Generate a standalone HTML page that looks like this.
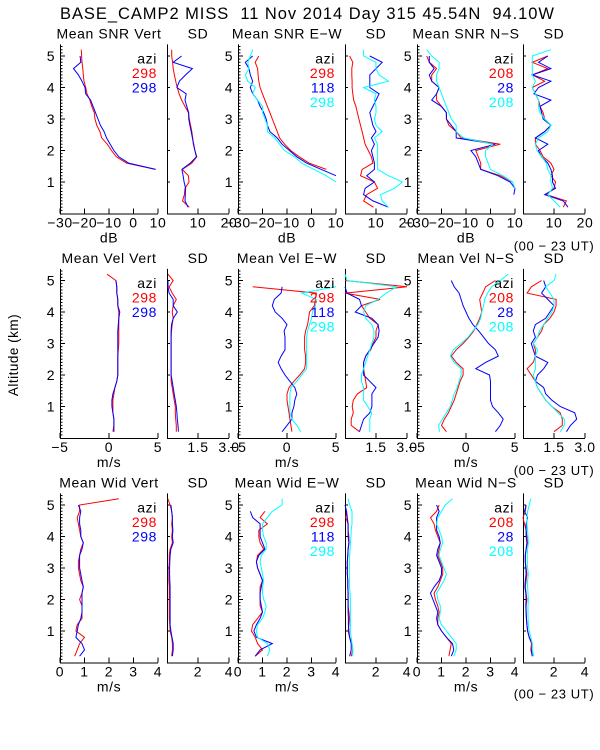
<!DOCTYPE html>
<html><head><meta charset="utf-8"><style>
body{margin:0;background:#fff}
svg{display:block}
text{font-family:"Liberation Sans",sans-serif;fill:#000}
</style></head><body>
<svg id="chart" width="600" height="750" viewBox="0 0 600 750" xmlns="http://www.w3.org/2000/svg">
<text x="60" y="19" font-size="16.5" textLength="494" lengthAdjust="spacing" xml:space="preserve">BASE_CAMP2 MISS  11 Nov 2014 Day 315 45.54N  94.10W</text>
<text transform="translate(18,355) rotate(-90)" font-size="13.5" text-anchor="middle" letter-spacing="0.5">Altitude (km)</text>
</svg>
<script>
// altitude grid (km)
const altitudes = [0.2,0.4,0.6,0.8,1.0,1.2,1.4,1.6,1.8,2.0,2.2,2.4,2.6,2.8,3.0,3.2,3.4,3.6,3.8,4.0,4.2,4.4,4.6,4.8,5.0,5.2];
const N = null;
// Row 1: SNR
const snrVertRed  = [N,N,N,N,N,N,9,-2.8,-7,-9,-10.7,-13,-13.7,-15,-15.7,-16,-17,-17.8,-19,-19.5,-20.2,-20.5,-20.7,-21,-21.2,-21.3];
const snrVertBlue = [N,N,N,N,N,N,9,-2,-6,-8,-9.5,-11,-12,-13.5,-14.5,-15.5,-16.5,-17.5,-19.5,-19.8,-21,-22.5,-24.5,-21.5,-21.8,N];
const snrVertSdRed  = [7.2,5,5.6,5.8,7.1,6.9,4.9,8,9.6,9,8.5,8.3,8,7.6,7.2,6.9,5.8,4.7,3.9,3.3,2.8,2.4,2,1.8,1.5,1.5];
const snrVertSdBlue = [6.8,5.8,5.9,6,5.5,5.2,4.8,7.5,9.5,9,8.6,8.2,7.8,7.4,7,7,6.4,5.8,6.2,3.2,4,6,8.2,2,4.7,N];
const snrEwRed  = [N,N,N,N,N,N,6,-1,-5,-8.5,-11,-13,-14,-15,-16,-17,-18,-19,-20,-21,-21.5,-21.8,-22,-23,-21.5,N];
const snrEwBlue = [N,N,N,N,N,10,4,-2,-6,-9,-12,-14,-17,-18,-18.5,-19.5,-21,-22,-24,-25,-24,-25,-25.5,-27,-24,N];
const snrEwCyan = [N,N,N,N,10,6,1,-4,-7,-11,-13,-15,-18,-18,-19,-20,-20,-22,-24,-23,-26,-27,-25.5,-26,-25,-24];
const snrEwSdRed  = [9.2,6,7,10.5,9.5,5,5.5,9,8.5,7.5,6.5,6,5.5,5,4.5,4,3.5,2.8,2.5,2.3,2.3,2.2,2.2,2.5,1.5,N];
const snrEwSdBlue = [14,9,6,6.5,9.5,7,9.5,9.5,9,8.5,9.5,8.5,10,9,8.5,8,9,10,11,8,8,8,10,12,8,N];
const snrEwSdCyan = [14,12,11.5,16,18.5,14,10.5,10.5,10.5,10.5,10.5,9.5,12,10,9.5,10,10,9.5,10,6,14,11,10,10,6,6];
const snrNsRed  = [N,N,N,N,9,4,-4,-4,-5,-6,4,-12,-14,-17,-18,-18,-20,-22,-22,-21,-24,-24,-22,-25,-26,N];
const snrNsBlue = [N,N,9.5,10,8,3,-4,-5,-6,-8,2,-14,-14,-16,-18,-18,-20,-24,-22,-21,-24,-25,-23,-25,-25,N];
const snrNsCyan = [N,N,N,10,9,5,0,-1,-2,-2,1,-11,-14,-14,-16,-17,-18,-19,-20,-21,-22,-22,-21,-21,-24,-26];
const snrNsSdRed  = [13,14,7.5,10,10.5,9,10,9,6.5,5.5,4,4,7,9,7,6.5,5.5,5,4,3,7,3,8,3,8,N];
const snrNsSdBlue = [14.5,13,7,10.5,9.5,9.5,9,8,6,5,8,4,7,9,6.5,6,5.5,9,3.5,5,9,3,9,5,8,N];
const snrNsSdCyan = [12,10,8,9.5,9,9,8,7.5,6,4.5,4,5,8,9,7,5.5,5,5,4,3,4,3,3,3,3,9];
// Row 2: velocity
const velVertRed  = [0.4,0.5,0.5,0.4,0.4,0.4,0.5,0.6,0.8,0.9,0.9,0.9,0.9,0.95,1.0,1.0,1.0,1.0,1.0,1.0,0.9,0.9,0.8,0.8,0.7,-0.2];
const velVertBlue = [0.5,0.5,0.5,0.4,0.3,0.3,0.4,0.6,0.8,0.9,0.9,0.9,0.9,0.9,0.9,0.9,0.9,0.95,1.0,1.1,0.9,0.9,0.8,0.8,0.7,N];
const velVertSdRed  = [0.45,0.45,0.42,0.4,0.4,0.35,0.3,0.25,0.2,0.2,0.2,0.2,0.2,0.2,0.2,0.2,0.22,0.25,0.3,0.25,0.3,0.45,0.25,0.1,0.3,0.05];
const velVertSdBlue = [0.55,0.53,0.5,0.48,0.45,0.4,0.35,0.3,0.25,0.2,0.2,0.2,0.2,0.2,0.2,0.2,0.2,0.22,0.3,0.5,0.3,0.3,0.1,0.05,0.05,N];
const velEwRed  = [0.5,0.4,0.3,0.2,0.1,0,0,0.2,0.7,1.3,1.8,1.9,1.9,1.8,1.8,1.8,1.9,2.1,2.2,2.3,2.8,2.9,3.0,-3.5,N,N];
const velEwBlue = [-0.5,0,0.5,0.5,0.7,0.8,1.0,0.8,0.3,-0.2,-0.6,-0.9,-0.6,-0.2,-0.2,-0.2,-0.3,0,-0.5,-1.2,-1.5,-1.3,-0.6,-0.5,N,N];
const velEwCyan = [1.4,1,0.5,0.3,0.3,0.3,0.3,0.4,1.0,1.5,2.0,2.0,2.0,2.0,2.0,2.0,2.1,2.3,2.5,2.6,2.9,3.0,1.5,5,N,N];
const velEwSdRed  = [0.7,0.3,0.3,0.4,0.35,0.4,0.6,1.05,1.0,0.95,0.9,0.9,1.0,1.25,1.35,1.5,1.5,1.6,1.2,1.0,0.8,1.7,0.0,3.0,0.0,N];
const velEwSdBlue = [0.7,0.8,0.9,1.2,1.3,1.3,1.3,1.5,1.2,0.9,0.9,0.9,1.0,1.2,1.4,1.6,1.65,1.6,1.3,0.5,0.8,0.7,0.1,0.0,N,N];
const velEwSdCyan = [1.2,1.2,1.2,1.3,1.1,0.9,0.9,0.9,0.8,0.8,0.9,1.0,1.1,1.2,1.3,1.4,1.4,1.3,1.0,0.9,1.0,1.6,2.0,2.5,0.1,0.0];
const velNsRed  = [-2.0,-2.5,-2.2,-1.8,-1.5,-1.2,-1.0,-0.8,-0.6,-0.3,-0.3,-1.0,-1.5,-1.0,-0.3,0.3,0.8,1.1,1.4,1.6,1.5,1.4,1.7,2.0,3.0,N];
const velNsBlue = [3.0,3.5,3.8,3.3,2.7,2.5,2.5,2.5,2.5,2.4,1.0,2.0,3.3,3.0,2.3,1.8,1.3,0.7,0.3,0.0,-0.3,-0.5,-0.7,-1.2,-1.5,N];
const velNsCyan = [-2.7,-2.8,-2.4,-2.0,-1.6,-1.4,-1.2,-0.9,-0.7,-0.5,-0.5,-1.2,-1.6,-1.3,-0.5,0.2,0.7,1.2,1.5,1.6,1.8,1.9,2.2,2.6,3.5,4.3];
const velNsSdRed  = [1.5,1.9,1.9,1.8,1.4,1.1,0.9,0.7,0.6,0.4,0.2,0.5,0.6,0.6,0.5,0.7,0.9,1.0,1.3,1.5,1.6,1.6,0.2,0.4,0.9,N];
const velNsSdBlue = [2.1,2.3,2.6,2.5,1.8,1.4,1.1,1.0,0.6,0.7,1.0,1.2,0.6,0.5,0.4,0.6,0.5,0.6,1.1,1.3,1.5,1.2,0.9,1.1,1.0,N];
const velNsSdCyan = [1.8,2.0,2.0,1.7,1.4,1.1,0.9,0.7,0.6,0.5,0.6,0.6,0.6,0.7,0.5,0.7,0.8,1.0,1.2,1.4,1.5,1.5,1.3,1.1,1.5,1.6];
// Row 3: width
const widVertRed  = [0.6,0.7,0.8,1.0,0.65,0.7,0.9,0.9,0.9,0.8,0.9,0.95,0.85,0.8,0.75,0.75,0.8,0.85,0.95,0.85,0.8,0.75,0.7,0.8,0.8,2.4];
const widVertBlue = [0.8,1.0,0.9,0.65,0.7,0.75,0.85,0.9,0.9,0.9,0.9,0.95,0.9,0.85,0.8,0.8,0.8,0.9,0.95,0.85,0.85,0.8,0.8,0.85,0.75,N];
const widVertSdRed  = [0.3,0.35,0.35,0.3,0.2,0.18,0.15,0.15,0.15,0.15,0.15,0.15,0.12,0.12,0.12,0.15,0.15,0.2,0.35,0.3,0.35,0.3,0.35,0.3,0.2,0.05];
const widVertSdBlue = [0.35,0.4,0.4,0.32,0.25,0.2,0.2,0.2,0.2,0.2,0.2,0.2,0.18,0.17,0.17,0.18,0.2,0.25,0.4,0.35,0.38,0.35,0.35,0.3,0.25,N];
const widEwRed  = [0.7,1.0,0.8,0.7,0.55,0.6,0.8,1.0,0.9,0.9,0.9,0.9,1.0,0.9,0.8,0.75,0.8,1.05,0.9,0.85,0.85,1.2,0.9,1.1,N,N];
const widEwBlue = [0.7,0.9,1.4,0.75,0.65,0.75,0.9,1.0,0.95,0.9,0.9,0.95,1.0,0.9,0.8,0.75,0.85,1.1,1.0,0.9,0.9,0.9,0.6,0.5,N,N];
const widEwCyan = [1.2,1.3,1.2,0.8,0.75,0.8,1.0,1.1,1.15,1.05,1.0,1.0,1.05,1.0,0.95,0.9,0.95,1.15,1.15,1.05,1.0,1.0,1.2,1.4,1.8,1.8];
const widEwSdRed  = [0.4,0.5,0.45,0.3,0.2,0.25,0.3,0.25,0.2,0.2,0.2,0.18,0.18,0.15,0.15,0.15,0.18,0.2,0.25,0.25,0.2,0.2,0.05,0.1,N,N];
const widEwSdBlue = [0.3,0.4,0.4,0.3,0.25,0.22,0.22,0.2,0.2,0.2,0.2,0.18,0.18,0.15,0.15,0.15,0.18,0.2,0.25,0.2,0.2,0.2,0.15,0.1,0.0,N];
const widEwSdCyan = [0.5,0.5,0.45,0.4,0.35,0.35,0.35,0.35,0.35,0.35,0.33,0.3,0.3,0.28,0.28,0.3,0.3,0.33,0.35,0.38,0.4,0.45,0.45,0.45,0.3,0.2];
const widNsRed  = [1.3,1.35,1.4,1.2,1.0,0.85,0.85,0.9,0.85,0.75,0.7,0.85,0.95,1.05,1.05,0.95,0.85,0.9,0.95,0.85,0.75,0.7,0.55,0.8,0.9,N];
const widNsBlue = [1.4,1.5,1.45,1.2,1.0,0.85,0.8,0.85,0.75,0.65,0.55,0.7,0.9,1.0,1.0,0.9,0.8,0.85,0.95,0.9,0.8,0.8,0.8,0.9,0.8,N];
const widNsCyan = [1.5,1.6,1.6,1.4,1.2,1.0,0.9,0.95,0.95,0.85,0.8,0.95,1.1,1.2,1.1,1.0,0.9,0.95,1.05,1.0,0.9,0.8,0.85,1.0,1.15,1.45];
const widNsSdRed  = [0.6,0.5,0.55,0.4,0.3,0.25,0.22,0.2,0.2,0.25,0.2,0.15,0.2,0.25,0.2,0.15,0.15,0.2,0.3,0.25,0.2,0.1,0.0,0.15,0.2,N];
const widNsSdBlue = [0.6,0.55,0.6,0.4,0.3,0.25,0.22,0.2,0.18,0.2,0.18,0.12,0.15,0.2,0.18,0.15,0.15,0.2,0.25,0.2,0.2,0.2,0.3,0.1,0.2,N];
const widNsSdCyan = [0.7,0.6,0.6,0.5,0.4,0.35,0.33,0.32,0.32,0.35,0.32,0.3,0.3,0.35,0.3,0.28,0.28,0.3,0.35,0.32,0.3,0.25,0.25,0.3,0.4,0.5];
// axis tick labels
const snrTicks = [-30,-20,-10,0,10];
const snrSdTicks = [10,20];
const velTicks = [-5,0,5];
const velSdTicks = [1.5,3.0];
const widTicks = [0,1,2,3,4];
const widSdTicks = [2,4];
const altTicks = [1,2,3,4,5];
const legendVert = ["298","298"];
const legendEw = ["298","118","298"];
const legendNs = ["208","28","208"];

const svg = document.getElementById('chart');
const NS = 'http://www.w3.org/2000/svg';
const COLORS = ['#ff0000','#0000ff','#00ffff'];
const KM = 31.5, TOPALT = 5.37;
const meanX = [60,238,417], sdX = [167,345,523];
const MW = 98, SW = 62;
const rowBottom = [213.5,438,662.5];
const FS = 14;

function mk(tag, attrs){const e=document.createElementNS(NS,tag);for(const k in attrs)e.setAttribute(k,attrs[k]);svg.appendChild(e);return e;}
function txt(x,y,s,size,anchor,fill){const t=mk('text',{x:x,y:y,'font-size':size,'text-anchor':anchor||'start','letter-spacing':'0.6'});if(fill)t.setAttribute('style','fill:'+fill);t.textContent=s;return t;}

function panel(r, x0, w, xmin, xmax, ticks, tickFmt, series, title, name, isMean, legend, unit){
  const yb = rowBottom[r], yt = yb - TOPALT*KM;
  const xs = v => x0 + (v - xmin)/(xmax - xmin)*w;
  const ys = a => yb - a*KM;
  const g = mk('g',{});
  
  
  const ax = mk('path',{d:`M${x0+0.5},${yt} V${yb+0.5} H${x0+w}`,stroke:'#000',fill:'none','stroke-width':1});
  
  
  let d='';
  if(isMean){
    for(let a=0.1;a<TOPALT;a+=0.1){d+=`M${x0},${ys(a)} h${Math.abs(Math.round(a*10)%10)===0?5:2.5}`;}
  } else {
    altTicks.forEach(a=>{d+=`M${x0},${ys(a)} h3`;});
  }
  ticks.forEach(v=>{d+=`M${xs(v)},${yb} v-5`;});
  mk('path',{d:d,stroke:'#000','stroke-width':1,fill:'none'});
  if(isMean){
    altTicks.forEach(a=>{const t=txt(x0-9,ys(a)+5,String(a),FS,'middle');
      
      });
  }
  ticks.forEach(v=>{const t=txt(xs(v),yb+14,tickFmt(v),FS,'middle');
    
    });
  const tt = txt(x0+w/2, yt-6, title, FS, 'middle');
  
  
  if(unit){const u=txt(x0+w/2, yb+29, unit, FS, 'middle');
    
    }
  series.forEach((vals,i)=>{
    let p='', pen=false;
    vals.forEach((v,j)=>{ if(v===null){pen=false;return;} p+=(pen?'L':'M')+xs(v).toFixed(1)+','+ys(altitudes[j]).toFixed(1); pen=true; });
    const l = mk('path',{d:p,stroke:COLORS[i],fill:'none','stroke-width':1});
    
    
  });
  if(legend){
    const ly = yt + 19, rx = x0 + w - 1;
    const a = txt(rx, ly, 'azi', FS, 'end');
    
    
    legend.forEach((s,i)=>{const t=txt(rx, ly+14.5*(i+1), s, FS, 'end', COLORS[i]);
      
      });
  }
}
const f0 = v => String(v).replace('-', '\u2212');
const f1 = v => v.toFixed(1);
panel(0, meanX[0], MW, -30, 10, snrTicks, f0, [snrVertRed,snrVertBlue], 'Mean SNR Vert', 'snr-vert', true, legendVert, 'dB');
panel(0, sdX[0], SW, 0, 20, snrSdTicks, f0, [snrVertSdRed,snrVertSdBlue], 'SD', 'snr-vert-sd', false);
panel(0, meanX[1], MW, -30, 10, snrTicks, f0, [snrEwRed,snrEwBlue,snrEwCyan], 'Mean SNR E\u2212W', 'snr-ew', true, legendEw, 'dB');
panel(0, sdX[1], SW, 0, 20, snrSdTicks, f0, [snrEwSdRed,snrEwSdBlue,snrEwSdCyan], 'SD', 'snr-ew-sd', false);
panel(0, meanX[2], MW, -30, 10, snrTicks, f0, [snrNsRed,snrNsBlue,snrNsCyan], 'Mean SNR N\u2212S', 'snr-ns', true, legendNs, 'dB');
panel(0, sdX[2], SW, 0, 20, snrSdTicks, f0, [snrNsSdRed,snrNsSdBlue,snrNsSdCyan], 'SD', 'snr-ns-sd', false);
panel(1, meanX[0], MW, -5, 5, velTicks, f0, [velVertRed,velVertBlue], 'Mean Vel Vert', 'vel-vert', true, legendVert, 'm/s');
panel(1, sdX[0], SW, 0, 3, velSdTicks, f1, [velVertSdRed,velVertSdBlue], 'SD', 'vel-vert-sd', false);
panel(1, meanX[1], MW, -5, 5, velTicks, f0, [velEwRed,velEwBlue,velEwCyan], 'Mean Vel E\u2212W', 'vel-ew', true, legendEw, 'm/s');
panel(1, sdX[1], SW, 0, 3, velSdTicks, f1, [velEwSdRed,velEwSdBlue,velEwSdCyan], 'SD', 'vel-ew-sd', false);
panel(1, meanX[2], MW, -5, 5, velTicks, f0, [velNsRed,velNsBlue,velNsCyan], 'Mean Vel N\u2212S', 'vel-ns', true, legendNs, 'm/s');
panel(1, sdX[2], SW, 0, 3, velSdTicks, f1, [velNsSdRed,velNsSdBlue,velNsSdCyan], 'SD', 'vel-ns-sd', false);
panel(2, meanX[0], MW, 0, 4, widTicks, f0, [widVertRed,widVertBlue], 'Mean Wid Vert', 'wid-vert', true, legendVert, 'm/s');
panel(2, sdX[0], SW, 0, 4, widSdTicks, f0, [widVertSdRed,widVertSdBlue], 'SD', 'wid-vert-sd', false);
panel(2, meanX[1], MW, 0, 4, widTicks, f0, [widEwRed,widEwBlue,widEwCyan], 'Mean Wid E\u2212W', 'wid-ew', true, legendEw, 'm/s');
panel(2, sdX[1], SW, 0, 4, widSdTicks, f0, [widEwSdRed,widEwSdBlue,widEwSdCyan], 'SD', 'wid-ew-sd', false);
panel(2, meanX[2], MW, 0, 4, widTicks, f0, [widNsRed,widNsBlue,widNsCyan], 'Mean Wid N\u2212S', 'wid-ns', true, legendNs, 'm/s');
panel(2, sdX[2], SW, 0, 4, widSdTicks, f0, [widNsSdRed,widNsSdBlue,widNsSdCyan], 'SD', 'wid-ns-sd', false);
[rowBottom[0]+37, rowBottom[1]+37, rowBottom[2]+36].forEach(y=>{
  const t = txt(554, y, '(00 \u2212 23 UT)', 13, 'middle');
  
  
});
</script>
</body></html>
